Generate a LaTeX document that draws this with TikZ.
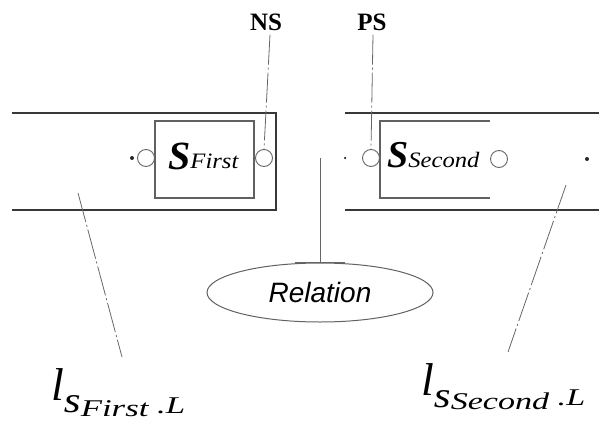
\documentclass[tikz,border=0pt]{standalone}
\usepackage{fontspec}
\setmainfont{Liberation Serif}
\newfontfamily\relfont{Liberation Sans}
\usepackage{graphicx}
\usetikzlibrary{shapes.geometric}
\newcommand{\fs}[1]{\fontsize{#1}{#1}\selectfont}
\begin{document}
\begin{tikzpicture}[x=1pt,y=-1pt,
  bandline/.style={draw=black!78, line width=1.4pt},
  sbox/.style={draw=black!62, line width=1.1pt},
  port/.style={circle, draw=black!60, line width=0.9pt, minimum size=17pt, inner sep=0pt},
  dotm/.style={circle, fill=black!85, minimum size=4pt, inner sep=0pt},
  conn/.style={draw=black!60, line width=0.8pt, dash pattern=on 30pt off 3pt on 2pt off 3pt},
  solidconn/.style={draw=black!60, line width=1pt},
  lbl/.style={inner sep=0pt, font=\fs{25}\bfseries},
  stext/.style={inner sep=0pt, anchor=base west},
  bigtext/.style={inner sep=0pt, anchor=base west}
]
\useasboundingbox (0,0) rectangle (599,423);

% bands
\draw[bandline] (12,113) -- (276,113) -- (276,210) -- (12,210);
\draw[bandline] (599,113) -- (345,113);
\draw[bandline] (345,210) -- (599,210);

% S_First box
\node[sbox, rectangle, minimum width=99pt, minimum height=77pt, inner sep=0pt] (sf) at (204.5,159.5) {};
\node[stext] (sft) at (168,169) {\fs{40}\bfseries\itshape S\raisebox{1pt}{\scalebox{1.12}[1]{\fs{22}\mdseries\itshape First}}};

% S_Second box (open at right)
\coordinate (ss1) at (490,121);
\coordinate (ss2) at (380,121);
\coordinate (ss3) at (380,198);
\coordinate (ss4) at (490,198);
\draw[sbox] (ss1) -- (ss2) -- (ss3) -- (ss4);
\node[stext] (sst) at (387,167) {\fs{38}\bfseries\itshape S\raisebox{0pt}{\scalebox{1.12}[1]{\fs{22}\mdseries\itshape Second}}};

% ports
\node[port] (pl1) at (146,158) {};
\node[port] (pr1) at (264,158) {};
\node[port] (pl2) at (371,158) {};
\node[port] (pr2) at (499,159) {};

% dots
\node[dotm] (d1) at (132,158) {};
\node[dotm, minimum size=2.5pt] (d2) at (345,158) {};
\node[dotm] (d3) at (587,159) {};

% NS / PS
\node[lbl] (ns) at (266,22) {NS};
\node[lbl] (ps) at (372,22) {PS};
\draw[conn] ([xshift=4pt,yshift=-4pt]ns.south) -- (pr1.north);
\draw[conn] ([xshift=1pt,yshift=-4pt]ps.south) -- (pl2.north);

% Relation
\node[ellipse, draw=black!62, line width=1pt, minimum width=226pt, minimum height=59pt, inner sep=0pt,
      font=\relfont\itshape\fs{28}] (rel) at (320,292.5) {Relation};
\coordinate (relTop) at (320,158);
\draw[solidconn] (relTop) -- (rel.north);
\draw[solidconn] ([xshift=-25pt]rel.north) -- ([xshift=25pt]rel.north);

% long leader lines
\coordinate (la) at (78,193);
\coordinate (lb) at (122,357);
\coordinate (ra) at (566,185);
\coordinate (rb) at (508,352);
\draw[conn] (la) -- (lb);
\draw[conn] (ra) -- (rb);

% big labels
\node[bigtext] (lfirst) at (51,400) {\fs{46}\itshape l\raisebox{-12pt}{\scalebox{1.2}[1]{\fs{36}\itshape s}}\raisebox{-16pt}{\scalebox{1.45}[1]{\fs{24}\itshape First}}\raisebox{-13pt}{\scalebox{1.45}[1]{\fs{24}\ .\itshape L}}};
\node[bigtext] (lsecond) at (421,395) {\fs{46}\itshape l\raisebox{-12pt}{\scalebox{1.2}[1]{\fs{36}\itshape s}}\raisebox{-14pt}{\scalebox{1.42}[1]{\fs{24}\itshape Second}}\raisebox{-10pt}{\scalebox{1.42}[1]{\fs{24}\ .\itshape L}}};
\end{tikzpicture}
\end{document}
